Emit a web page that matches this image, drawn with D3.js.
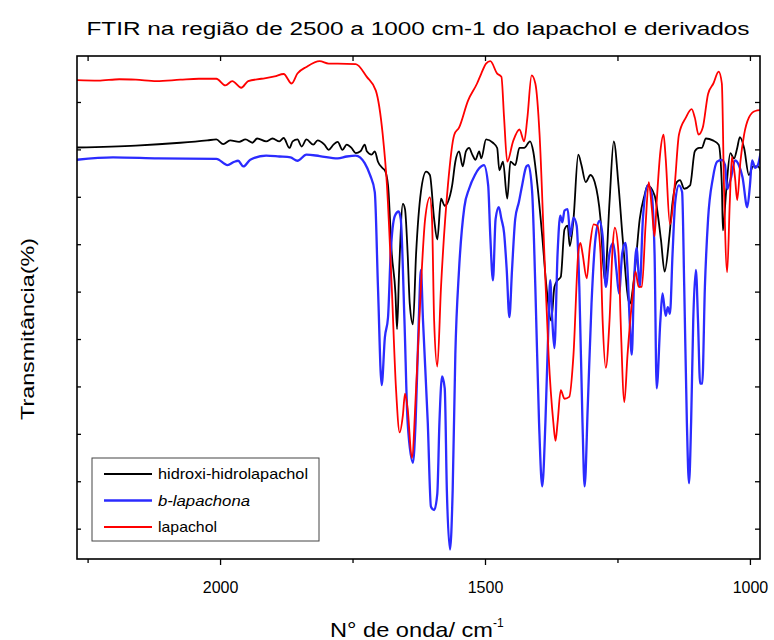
<!DOCTYPE html>
<html>
<head>
<meta charset="utf-8">
<script src="https://cdn.jsdelivr.net/npm/d3@7"></script>
<style>
  body { margin: 0; background: #fff; }
  text { font-family: "Liberation Sans", Arial, sans-serif; fill: #000; }
</style>
</head>
<body>
<div id="chart"></div>
<script>
// wavenumber (cm-1), transmittance (arbitrary %)
const hidroxi = [
  [2271,80.4],[2159,80.8],[2075,81.4],[2024,81.9],[2007,82.1],[1994,81.1],[1981,81.9],[1964,81.6],
  [1952,82.1],[1939,81.4],[1930,82.3],[1913,81.7],[1901,82.3],[1888,81.7],[1880,82.4],[1869,80.3],
  [1863,81.7],[1854,82.1],[1846,80.6],[1837,82.1],[1824,81.0],[1816,81.9],[1803,81.0],[1795,79.9],
  [1786,81.0],[1778,81.6],[1769,79.9],[1761,81.0],[1752,80.3],[1744,79.2],[1735,79.6],[1727,81.0],
  [1723,79.6],[1714,78.9],[1708,79.6],[1702,77.4],[1693,76.0],[1689,75.6],[1683,72.4],[1676,58.1],
  [1669,49.6],[1666,42.1],[1662,54.6],[1655,68.5],[1651,67.4],[1646,58.1],[1642,47.4],[1636,43.1],
  [1630,58.1],[1621,71.0],[1611,75.3],[1604,74.6],[1596,65.3],[1590,61.0],[1583,69.6],[1576,68.1],
  [1570,68.9],[1562,72.4],[1556,77.4],[1549,79.6],[1542,76.4],[1536,79.6],[1530,80.3],[1524,78.9],
  [1518,77.8],[1511,79.6],[1507,78.1],[1498,82.1],[1485,81.4],[1477,80.3],[1473,75.6],[1466,77.4],
  [1458,69.6],[1452,77.4],[1443,76.7],[1435,80.3],[1426,80.3],[1415,81.7],[1409,79.6],[1401,72.4],
  [1392,61.7],[1384,51.0],[1375,43.9],[1369,51.0],[1363,52.4],[1357,53.1],[1350,63.1],[1344,63.9],
  [1340,59.6],[1333,65.3],[1324,78.9],[1318,76.7],[1310,73.1],[1301,74.6],[1293,73.1],[1282,65.3],
  [1274,52.4],[1265,68.9],[1257,81.7],[1248,72.4],[1240,61.0],[1227,47.4],[1217,54.6],[1208,65.3],
  [1199,70.3],[1193,72.4],[1180,70.3],[1168,61.0],[1161,54.2],[1152,61.7],[1146,68.9],[1138,73.1],
  [1132,73.5],[1124,71.7],[1113,72.4],[1104,79.6],[1096,80.3],[1091,80.3],[1083,82.3],[1070,81.9],
  [1059,81.0],[1053,72.4],[1051,62.9],[1045,71.0],[1037,79.2],[1030,78.1],[1024,80.3],[1019,82.6],
  [1011,80.3],[1002,74.6],[994,76.4],[985,76.4],[979,75.3]
];

const bLapachona = [
  [2271,77.8],[2202,78.3],[2117,78.1],[2007,78.0],[1986,76.7],[1973,77.4],[1966,77.6],[1956,76.4],
  [1943,77.8],[1913,78.7],[1888,78.5],[1867,78.3],[1854,77.6],[1837,78.9],[1812,78.6],[1778,78.1],
  [1761,78.5],[1744,78.7],[1727,77.1],[1717,74.6],[1708,71.0],[1702,51.0],[1695,30.3],[1689,40.3],
  [1683,44.6],[1678,58.1],[1670,66.0],[1663,66.9],[1659,65.3],[1652,43.9],[1646,22.4],[1636,13.9],
  [1631,22.4],[1625,43.9],[1621,54.6],[1617,43.9],[1608,22.4],[1602,4.6],[1596,3.9],[1590,7.4],
  [1586,22.4],[1581,32.1],[1576,29.6],[1572,8.1],[1566,-4.4],[1561,8.1],[1556,36.7],[1549,54.6],
  [1539,67.8],[1530,71.7],[1519,74.6],[1511,76.0],[1502,76.7],[1494,72.4],[1490,61.7],[1485,52.4],
  [1480,65.3],[1474,67.8],[1469,65.3],[1464,62.4],[1459,54.6],[1454,44.6],[1449,54.6],[1443,65.3],
  [1436,68.9],[1430,72.4],[1422,76.4],[1418,76.7],[1411,71.0],[1405,51.0],[1398,22.4],[1392,8.9],
  [1386,22.4],[1381,40.3],[1377,52.4],[1373,43.9],[1369,38.1],[1363,58.1],[1358,66.0],[1354,64.6],
  [1350,67.1],[1344,67.4],[1339,61.7],[1333,65.6],[1327,63.9],[1322,51.0],[1316,22.4],[1312,8.9],
  [1306,26.0],[1299,47.4],[1291,61.7],[1284,64.9],[1278,61.7],[1272,51.0],[1265,58.1],[1258,60.3],
  [1252,54.6],[1247,49.6],[1241,58.1],[1235,60.3],[1231,54.6],[1227,43.9],[1223,36.7],[1219,51.0],
  [1214,59.2],[1208,51.0],[1202,65.3],[1193,72.4],[1186,71.0],[1180,58.1],[1176,29.6],[1169,43.9],
  [1165,49.6],[1159,44.9],[1155,46.7],[1151,45.3],[1146,58.1],[1141,68.9],[1134,72.4],[1128,71.0],
  [1124,51.0],[1119,22.4],[1115,9.6],[1111,22.4],[1107,43.9],[1102,54.6],[1098,43.9],[1094,30.6],
  [1090,30.6],[1085,51.0],[1079,65.3],[1070,73.9],[1062,77.4],[1053,77.8],[1047,76.7],[1043,71.6],
  [1036,73.9],[1028,77.7],[1021,76.7],[1014,74.1],[1005,67.8],[1000,72.4],[996,77.7],[990,76.1],
  [985,76.7],[980,79.2]
];

const lapachol = [
  [2271,94.6],[2230,94.5],[2190,94.8],[2159,94.7],[2120,94.4],[2075,94.7],[2040,94.9],[2007,94.9],
  [1990,93.5],[1977,94.4],[1960,93.0],[1947,94.4],[1922,94.9],[1897,95.4],[1880,95.9],[1865,93.9],
  [1854,96.0],[1837,97.4],[1812,98.6],[1795,98.1],[1778,98.1],[1744,98.0],[1723,95.3],[1706,92.4],
  [1693,83.1],[1685,72.4],[1676,51.0],[1668,29.6],[1661,20.3],[1655,23.9],[1651,28.5],[1646,25.3],
  [1638,14.9],[1630,29.6],[1621,51.0],[1613,65.3],[1604,69.9],[1600,65.3],[1596,43.9],[1590,34.2],
  [1583,51.0],[1570,72.4],[1558,83.1],[1549,84.6],[1532,90.3],[1515,93.9],[1507,96.0],[1498,98.1],
  [1490,98.6],[1477,96.0],[1469,95.3],[1464,86.7],[1458,77.4],[1447,81.7],[1435,84.2],[1426,81.7],
  [1420,86.7],[1412,95.6],[1405,93.9],[1397,83.1],[1388,58.1],[1380,36.7],[1371,22.4],[1367,18.5],
  [1363,22.4],[1357,29.2],[1350,27.4],[1341,27.8],[1333,36.7],[1324,58.1],[1320,60.3],[1316,58.1],
  [1308,52.8],[1302,59.6],[1295,64.2],[1288,63.9],[1282,58.1],[1278,43.9],[1272,33.9],[1265,43.9],
  [1259,59.6],[1255,63.5],[1248,58.1],[1244,43.9],[1237,26.7],[1231,36.7],[1223,47.4],[1216,54.2],
  [1210,51.0],[1204,51.0],[1197,63.9],[1191,73.1],[1185,67.4],[1180,61.7],[1176,68.9],[1169,79.6],
  [1163,83.1],[1159,78.1],[1151,64.2],[1142,72.4],[1134,83.1],[1121,86.7],[1110,88.5],[1104,86.7],
  [1097,83.1],[1089,84.6],[1079,91.7],[1069,93.9],[1059,96.4],[1053,93.9],[1049,72.4],[1043,54.1],
  [1038,68.9],[1034,78.4],[1028,73.9],[1024,69.3],[1018,77.4],[1011,83.1],[1002,86.7],[990,88.1],
  [977,88.3]
];

const seriesNames = ["hidroxi-hidrolapachol", "b-lapachona", "lapachol"];
const seriesColors = ["#000000", "#2b2bff", "#ff0000"];
const seriesData = [hidroxi, bLapachona, lapachol];

const majorTicks = [2000, 1500, 1000];
const minorTicks = [2250, 1750, 1250];
const yTicks = d3.range(0, 100, 10);

const W = 774, H = 640;
const margin = { left: 77, right: 14, top: 56, bottom: 81 };
const innerW = W - margin.left - margin.right;
const innerH = H - margin.top - margin.bottom;

const svg = d3.select("#chart").append("svg")
  .attr("width", W).attr("height", H);

svg.append("clipPath").attr("id", "clipper")
  .append("rect").attr("width", innerW).attr("height", innerH);

const g = svg.append("g")
  .attr("transform", `translate(${margin.left},${margin.top})`);

const x = d3.scaleLinear().domain([2270, 981]).range([0, innerW]);
const y = d3.scaleLinear().domain([-6.4, 99.7]).range([innerH, 0]);

// axes
const axBottom = g.append("g").attr("transform", `translate(0,${innerH})`)
  .call(d3.axisBottom(x).tickValues(majorTicks).tickSize(6).tickFormat(d3.format("d")));
g.append("g").attr("transform", `translate(0,${innerH})`)
  .call(d3.axisBottom(x).tickValues(minorTicks).tickSize(4).tickFormat(""));
g.append("g")
  .call(d3.axisTop(x).tickValues(majorTicks.concat(minorTicks)).tickSize(-5).tickFormat(""));
g.append("g")
  .call(d3.axisLeft(y).tickValues(yTicks).tickSize(-4).tickFormat(""));
g.append("g").attr("transform", `translate(${innerW},0)`)
  .call(d3.axisRight(y).tickValues(yTicks).tickSize(-5).tickFormat(""));

g.selectAll(".domain").remove();
g.selectAll(".tick line").attr("stroke", "#000").attr("stroke-width", 1.3);
axBottom.selectAll(".tick text")
  .attr("font-size", 16).attr("y", 23).attr("dy", "0.71em")
  .style("font-family", '"Liberation Sans", Arial, sans-serif');

// lines
const line = d3.line()
  .x(d => x(d[0]))
  .y(d => y(d[1]))
  .curve(d3.curveMonotoneX);

const plot = g.append("g").attr("clip-path", "url(#clipper)");
seriesData.forEach((data, i) => {
  plot.append("path")
    .datum(data)
    .attr("fill", "none")
    .attr("stroke", seriesColors[i])
    .attr("stroke-width", i === 1 ? 2.3 : 1.8)
    .attr("stroke-linejoin", "round")
    .attr("d", line);
});

// frame
g.append("rect")
  .attr("width", innerW).attr("height", innerH)
  .attr("fill", "none").attr("stroke", "#000").attr("stroke-width", 1.6);

// legend
const legend = svg.append("g").attr("transform", "translate(92,458)");
legend.append("rect")
  .attr("width", 227).attr("height", 83)
  .attr("fill", "#fff").attr("stroke", "#444").attr("stroke-width", 1);
const legendLen = [150, 92, 59];
seriesNames.forEach((name, i) => {
  const yy = 16 + i * 26.5;
  legend.append("line")
    .attr("x1", 12).attr("x2", 60).attr("y1", yy).attr("y2", yy)
    .attr("stroke", seriesColors[i]).attr("stroke-width", i === 1 ? 2.3 : 1.8);
  legend.append("text")
    .attr("x", 66).attr("y", yy + 5)
    .attr("font-size", 15)
    .attr("font-style", i === 1 ? "italic" : "normal")
    .attr("textLength", legendLen[i]).attr("lengthAdjust", "spacingAndGlyphs")
    .text(name);
});

// title and axis labels
svg.append("text")
  .attr("x", 418).attr("y", 35)
  .attr("text-anchor", "middle").attr("font-size", 18)
  .attr("textLength", 663).attr("lengthAdjust", "spacingAndGlyphs")
  .text("FTIR na região de 2500 a 1000 cm-1 do lapachol e derivados");

svg.append("text")
  .attr("transform", "translate(34,329) rotate(-90)")
  .attr("text-anchor", "middle").attr("font-size", 18)
  .attr("textLength", 182).attr("lengthAdjust", "spacingAndGlyphs")
  .text("Transmitância(%)");

const xl = svg.append("text")
  .attr("x", 330).attr("y", 637)
  .attr("font-size", 21);
xl.append("tspan")
  .attr("textLength", 163).attr("lengthAdjust", "spacingAndGlyphs")
  .text("N° de onda/ cm");
xl.append("tspan").attr("font-size", 12).attr("dy", -10).text("-1");
</script>
</body>
</html>
